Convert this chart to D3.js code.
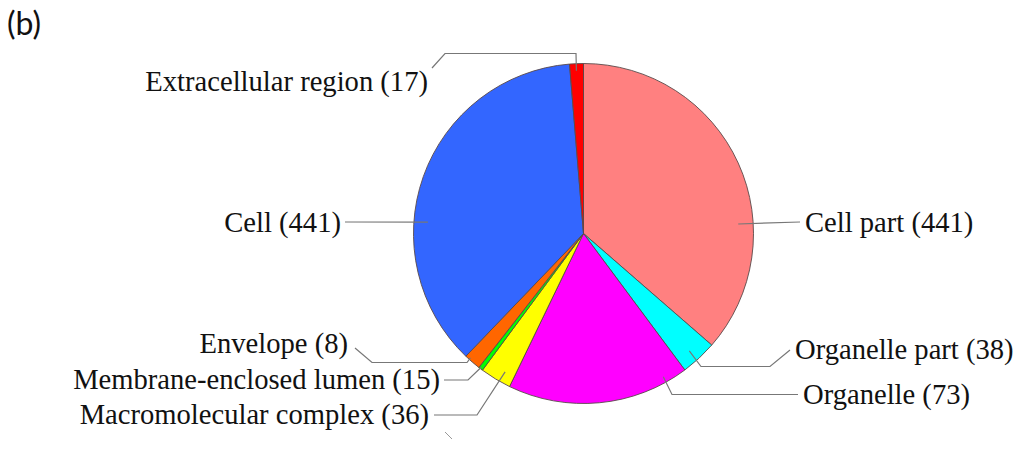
<!DOCTYPE html>
<html>
<head>
<meta charset="utf-8">
<script src="https://cdn.jsdelivr.net/npm/d3@7"></script>
<style>
  body { margin: 0; background: #fff; }
  svg { display: block; }
</style>
</head>
<body>
<div id="chart-area"></div>
<script>
// GO cellular component terms, clockwise from 12 o'clock
const categories = ["Cell part", "Organelle part", "Organelle", "Macromolecular complex",
  "Membrane-enclosed lumen", "Envelope", "Cell", "Extracellular region"]
const counts = [441, 38, 73, 36, 15, 8, 441, 17]
// slice sizes as drawn in the figure (% of the circle)
const shares = [36.4, 3.44, 17.33, 2.97, 0.42, 1.61, 36.53, 1.31]
const colors = ["#FF8080", "#00FFFF", "#FF00FF", "#FFFF00", "#00FF00", "#FF6600", "#3366FF", "#FF0000"]

const WIDTH = 1024
const HEIGHT = 449
const CX = 583.5
const CY = 233.5
const R = 170

// label layout: where the leader leaves the slice (fraction of slice angle, radius),
// the elbows of the leader, and where the text sits
const labels = [
  {frac: 0.66, r: 155, path: [[800, 222]], x: 805, y: 232, anchor: "start"},
  {frac: 0.56, r: 158, path: [[701, 366.5], [770, 366.5], [790, 350]], x: 795, y: 359, anchor: "start"},
  {frac: 0.12, r: 164, path: [[672, 394.5], [798, 394.5]], x: 803, y: 404, anchor: "start"},
  {frac: 0.35, r: 159, path: [[477, 415], [434, 415]], x: 429, y: 424, anchor: "end"},
  {frac: 0.6, r: 168, path: [[468, 380], [444, 380]], x: 440, y: 389, anchor: "end"},
  {frac: 0.74, r: 168, path: [[467, 362.5], [372, 362.5], [355, 348]], x: 348, y: 353, anchor: "end"},
  {frac: 0.383, r: 156, path: [[345, 222]], x: 341, y: 232, anchor: "end"},
  {frac: 0.47, r: 163, path: [[576, 53.5], [445, 53.5], [432, 68]], x: 428, y: 91, anchor: "end"}
]

const data = categories.map((c, i) => ({name: c, count: counts[i], share: shares[i], color: colors[i]}))

const svg = d3.select("#chart-area").append("svg")
  .attr("width", WIDTH)
  .attr("height", HEIGHT)

svg.append("text")
  .attr("x", 7)
  .attr("y", 35)
  .attr("font-family", "Lato, 'Open Sans', sans-serif")
  .attr("font-size", "32px")
  .attr("fill", "#111")
  .text("(b)")

const pie = d3.pie().sort(null).value(d => d.share)
const arc = d3.arc().innerRadius(0).outerRadius(R)
const arcs = pie(data)

const g = svg.append("g")
  .attr("transform", `translate(${CX}, ${CY})`)

g.selectAll("path.slice").data(arcs)
  .enter().append("path")
  .attr("class", "slice")
  .attr("d", arc)
  .attr("fill", d => d.data.color)
  .attr("stroke", "#5a4a4a")
  .attr("stroke-width", 0.9)
  .attr("stroke-linejoin", "round")

// leader lines
const line = d3.line()
svg.selectAll("path.leader").data(arcs)
  .enter().append("path")
  .attr("class", "leader")
  .attr("d", (d, i) => {
    const L = labels[i]
    const a = d.startAngle + L.frac * (d.endAngle - d.startAngle)
    const p = d3.pointRadial(a, L.r)
    return line([[CX + p[0], CY + p[1]], ...L.path])
  })
  .attr("fill", "none")
  .attr("stroke", "#777")
  .attr("stroke-width", 1.2)

svg.selectAll("text.lbl").data(arcs)
  .enter().append("text")
  .attr("class", "lbl")
  .attr("x", (d, i) => labels[i].x)
  .attr("y", (d, i) => labels[i].y)
  .attr("text-anchor", (d, i) => labels[i].anchor)
  .attr("font-family", "'Liberation Serif', 'Times New Roman', serif")
  .attr("font-size", "28.6px")
  .attr("fill", "#111")
  .text(d => `${d.data.name} (${d.data.count})`)

// small stray tick below the pie in the original figure
svg.append("line")
  .attr("x1", 445).attr("y1", 432)
  .attr("x2", 452).attr("y2", 439)
  .attr("stroke", "#999")
  .attr("stroke-width", 1)
</script>
</body>
</html>
